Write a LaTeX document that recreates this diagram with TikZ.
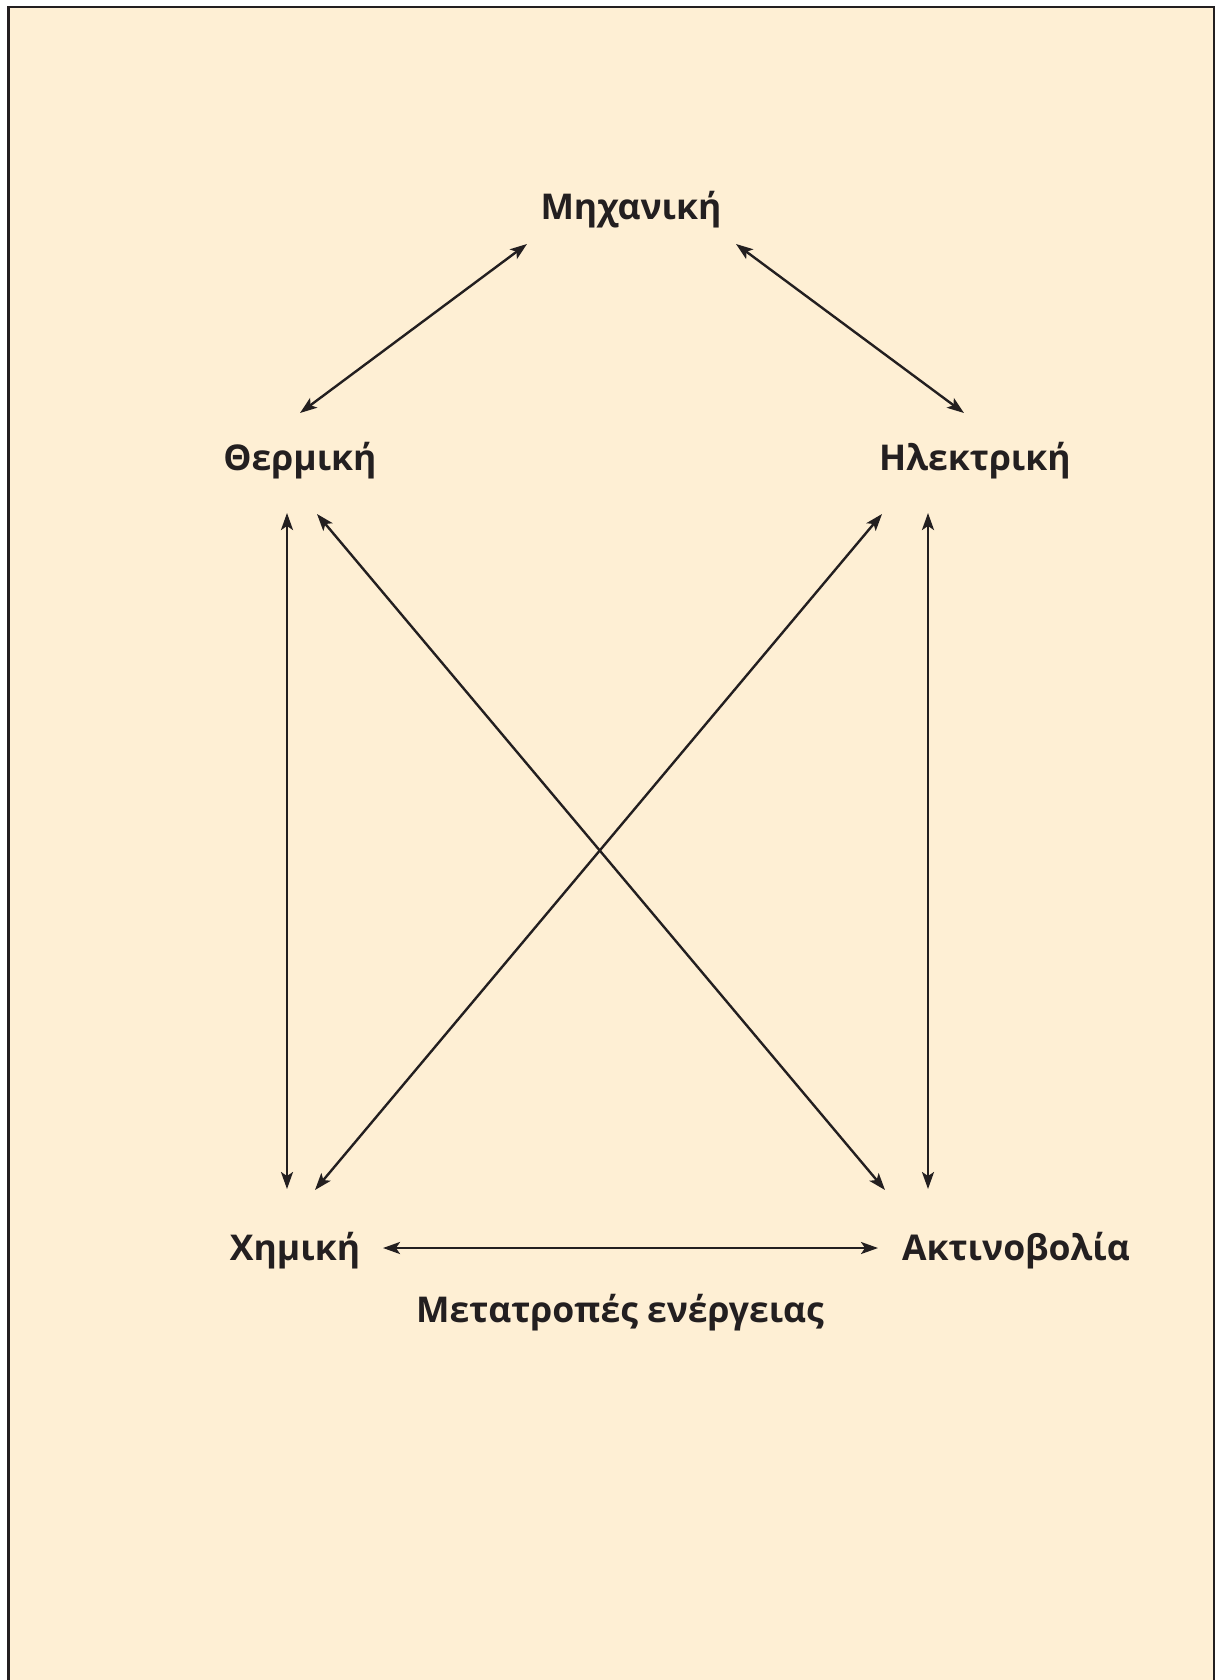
\documentclass[tikz,border=0pt]{standalone}
\usepackage{fontspec}
\setmainfont{Open Sans}
\usetikzlibrary{arrows.meta}
\definecolor{bgc}{HTML}{FEEFD4}
\definecolor{ink}{HTML}{231F20}
\tikzset{
  lbl/.style={font=\fontsize{35.5}{42}\selectfont\bfseries, text=ink, anchor=base, inner sep=0pt},
  conn/.style={draw=ink, line width=2.4pt, {Stealth[length=17pt,width=12pt,inset=4pt]}-{Stealth[length=17pt,width=12pt,inset=4pt]}},
  frame/.style={draw=ink, line width=2.6pt}
}
\begin{document}
\begin{tikzpicture}[x=1pt,y=-1pt]
\useasboundingbox (0,0) rectangle (1215,1680);
\fill[white] (0,0) rectangle (1215,1680);
\fill[bgc] (8.5,7.2) rectangle (1215,1680);
\draw[frame] (8.5,1680) -- (8.5,7.2) -- (1213.8,7.2) -- (1213.8,1680);

\node[lbl] (mech)  at (631,220) {Μηχανική};
\node[lbl] (therm) at (300,470) {Θερμική};
\node[lbl] (elec)  at (975,470) {Ηλεκτρική};
\node[lbl] (chem)  at (295,1260) {Χημική};
\node[lbl] (rad)   at (1016,1260) {Ακτινοβολία};
\node[lbl] (title) at (620,1322) {Μετατροπές ενέργειας};

\coordinate (tm1) at (300,413);
\coordinate (tm2) at (527,244);
\coordinate (me1) at (736,244);
\coordinate (me2) at (964,413);
\coordinate (tv1) at (287,513);
\coordinate (tv2) at (287,1189);
\coordinate (td1) at (317,514);
\coordinate (td2) at (885,1190);
\coordinate (ed1) at (882,514);
\coordinate (ed2) at (315,1190);
\coordinate (ev1) at (928,513);
\coordinate (ev2) at (928,1189);
\coordinate (ch1) at (383,1248);
\coordinate (ch2) at (878,1248);

\draw[conn] (tm1) -- (tm2);
\draw[conn] (me1) -- (me2);
\draw[conn] (tv1) -- (tv2);
\draw[conn] (td1) -- (td2);
\draw[conn] (ed1) -- (ed2);
\draw[conn] (ev1) -- (ev2);
\draw[conn] (ch1) -- (ch2);
\end{tikzpicture}
\end{document}
